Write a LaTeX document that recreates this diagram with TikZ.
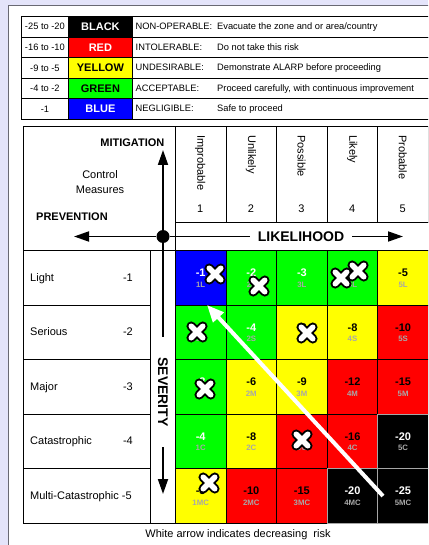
\documentclass[tikz,border=0pt]{standalone}
\usepackage{fontspec}
\setmainfont{Liberation Sans}
\usetikzlibrary{arrows.meta}

\definecolor{bgLav}{RGB}{228,228,250}
\definecolor{panelEdge}{RGB}{105,105,115}
\definecolor{rBlue}{RGB}{0,0,255}
\definecolor{rGreen}{RGB}{0,255,0}
\definecolor{rYellow}{RGB}{255,255,0}
\definecolor{rRed}{RGB}{255,0,0}
\definecolor{codeGray}{RGB}{168,168,168}

\begin{document}
\begin{tikzpicture}[x=1pt,y=-1pt,
  box/.style={draw=black,line width=0.8pt,rectangle,inner sep=0pt,anchor=north west},
  legtxt/.style={font=\fontsize{9.3}{11}\selectfont,inner sep=0pt},
  legcol/.style={font=\fontsize{11}{13}\selectfont\bfseries,inner sep=0pt},
  lab/.style={font=\fontsize{11}{13}\selectfont,inner sep=0pt},
  boldlab/.style={font=\fontsize{11}{13}\selectfont\bfseries,inner sep=0pt},
  axislab/.style={font=\fontsize{14}{16}\selectfont\bfseries,inner sep=0pt},
  score/.style={font=\fontsize{11}{13}\selectfont\bfseries,inner sep=0pt},
  code/.style={font=\fontsize{7.8}{9}\selectfont\bfseries,inner sep=0pt,text=codeGray},
  axisline/.style={line width=1.8pt,black},
  axisarrow/.style={axisline,-{Triangle[length=15pt,width=10pt]}},
  xcross/.pic={
    \draw[line width=9.5pt,line cap=round,black] (-5.8,-5.8) -- (5.8,5.8) (-5.8,5.8) -- (5.8,-5.8);
    \draw[line width=5.4pt,line cap=round,white] (-5.8,-5.8) -- (5.8,5.8) (-5.8,5.8) -- (5.8,-5.8);
  }]

% page and panel
\useasboundingbox (0,0) rectangle (428,545);
\clip (0,0) rectangle (428,545);
\fill[bgLav] (0,0) rectangle (428,545);
\draw[panelEdge,fill=white,line width=1pt] (8,6) rectangle (460,580);

% legend table
\foreach \i/\rng/\col/\name/\tc/\cat/\desc in {
  0/{-25 to -20}/black/BLACK/white/NON-OPERABLE:/{Evacuate the zone and or area/country},
  1/{-16 to -10}/rRed/RED/white/INTOLERABLE:/{Do not take this risk},
  2/{-9 to -5}/rYellow/YELLOW/black/UNDESIRABLE:/{Demonstrate ALARP before proceeding},
  3/{-4 to -2}/rGreen/GREEN/black/ACCEPTABLE:/{Proceed carefully, with continuous improvement},
  4/{-1}/rBlue/BLUE/white/NEGLIGIBLE:/{Safe to proceed}} {
  \pgfmathsetmacro\y{16+20.6*\i}
  \pgfmathsetmacro\yb{\y+10.3+3.3}
  \node[box,minimum width=47,minimum height=20.6,legtxt] (lr-\i) at (21,\y) {\rng};
  \node[box,minimum width=64,minimum height=20.6,fill=\col,text=\tc,legcol] (lc-\i) at (68,\y) {\name};
  \node[box,minimum width=330,minimum height=20.6] (ld-\i) at (132,\y) {};
  \node[legtxt,anchor=base west] (lcat-\i) at (135.5,\yb) {\cat};
  \node[legtxt,anchor=base west] (ldesc-\i) at (217,\yb) {\desc};
}

% header of the matrix
\node[box,minimum width=152,minimum height=124] (corner) at (23,126) {};
\foreach \c/\w in {1/Improbable,2/Unlikely,3/Possible,4/Likely,5/Probable} {
  \pgfmathsetmacro\x{175+50.6*(\c-1)}
  \pgfmathsetmacro\xc{\x+25.3}
  \node[box,minimum width=50.6,minimum height=96] (h-\c) at (\x,126) {};
  \node[lab,rotate=-90,anchor=west] (hw-\c) at (\xc,135) {\w};
  \node[lab] (hn-\c) at (\xc,209) {\c};
}
\node[box,minimum width=270,minimum height=28] (likerow) at (175,222) {};

% severity labels
\node[box,minimum width=25,minimum height=272.5] (sevcol) at (150,250) {};
\foreach \r/\nm in {1/Light,2/Serious,3/Major,4/Catastrophic} {
  \pgfmathsetmacro\y{250+54.5*(\r-1)}
  \pgfmathsetmacro\yb{\y+27.25+4}
  \node[box,minimum width=127,minimum height=54.5] (sl-\r) at (23,\y) {};
  \node[lab,anchor=base west] (sn-\r) at (30,\yb) {\nm};
  \node[lab,anchor=base east] (sv-\r) at (133,\yb) {-\r};
}
\node[box,minimum width=127,minimum height=54.5] (sl-5) at (23,468) {};
\node[lab,anchor=base west] (sn-5) at (30,499.25) {Multi-Catastrophic -5};

% risk matrix cells
\foreach \r/\rl in {1/L,2/S,3/M,4/C,5/MC} {
  \foreach \c in {1,...,5} {
    \pgfmathtruncatemacro\sc{\r*\c}
    \pgfmathsetmacro\x{175+50.6*(\c-1)}
    \pgfmathsetmacro\y{250+54.5*(\r-1)}
    \ifnum\sc<2 \def\fc{rBlue}\def\tc{white}\def\bc{black}
    \else\ifnum\sc<5 \def\fc{rGreen}\def\tc{white}\def\bc{black}
    \else\ifnum\sc<10 \def\fc{rYellow}\def\tc{black}\def\bc{black}
    \else\ifnum\sc<20 \def\fc{rRed}\def\tc{black}\def\bc{black}
    \else \def\fc{black}\def\tc{white}\def\bc{black!35}\fi\fi\fi\fi
    \node[box,minimum width=50.6,minimum height=54.5,fill=\fc,draw=\bc] (m-\c-\r) at (\x,\y) {};
    \node[score,text=\tc,anchor=base] (s-\c-\r) at ([yshift=1pt]m-\c-\r.center) {-\sc};
    \node[code,anchor=base] (k-\c-\r) at ([yshift=-9.5pt]m-\c-\r.center) {\c\rl};
  }
}

% axes through the origin dot
\node[circle,fill=black,minimum size=13,inner sep=0pt] (dot) at (163,236.5) {};
\coordinate (mitTip) at (163,150);
\coordinate (prevTip) at (74,236.5);
\coordinate (likeTip) at (403,236.5);
\coordinate (sevTip) at (163,494);
\node[axislab,fill=white,minimum width=102,minimum height=26] (like) at (301,236.5) {LIKELIHOOD};
\node[axislab,rotate=-90,minimum width=110,minimum height=14] (sev) at (163,392) {SEVERITY};
\draw[axisarrow] (dot) -- (mitTip);
\draw[axisarrow] (dot) -- (prevTip);
\draw[axisline] (dot) -- (like);
\draw[axisarrow] (like) -- (likeTip);
\draw[axisline] (dot) -- (sev);
\draw[axisarrow] (sev) -- (sevTip);

\node[boldlab,anchor=east] (mit) at (164.5,143) {MITIGATION};
\node[lab,align=center] (ctrl) at (100,182) {Control\\[2pt]Measures};
\node[boldlab,anchor=west] (prev) at (36,217) {PREVENTION};

% assessed hazards
\foreach \p in {(215,274),(259,286),(341,278),(358,271),(197,332),(307,333),(205,389),(302,440),(209,483)}
  \pic at \p {xcross};

% decreasing-risk arrow
\coordinate (riskTail) at (383,496);
\coordinate (riskTip) at (207,305);
\draw[white,line width=4pt,-{Triangle[length=17pt,width=14pt]}] (riskTail) -- (riskTip);

\node[lab] (caption) at (238,535) {White arrow indicates decreasing\ \ risk};
\end{tikzpicture}
\end{document}
